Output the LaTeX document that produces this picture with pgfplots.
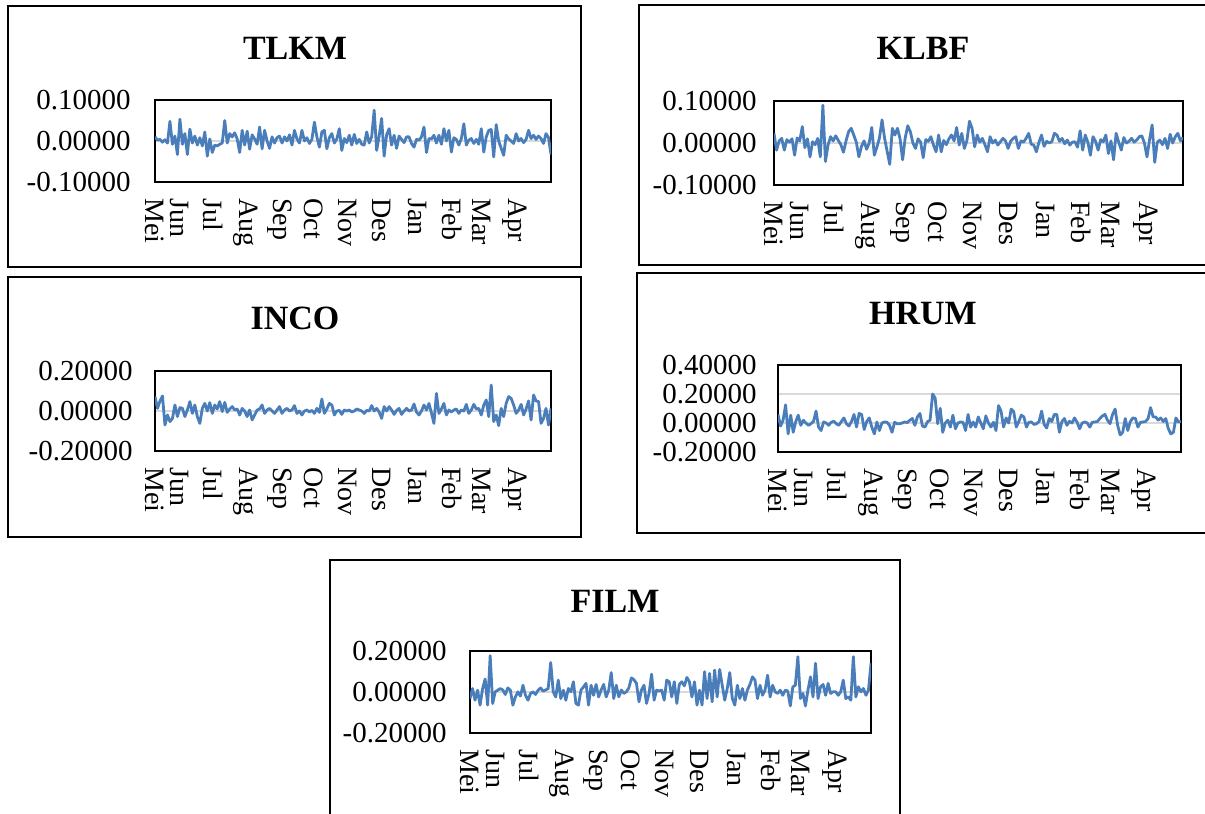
\documentclass[border=0pt]{standalone}
\usepackage{fontspec}
\setmainfont{Liberation Serif}
\usepackage{pgfplots}
\usepackage{pgfplotstable}
\pgfplotsset{compat=1.18}
\definecolor{xlblue}{RGB}{74,126,187}
\definecolor{xlgrid}{RGB}{217,217,217}

\pgfplotstableread[row sep=\\, header=false]{
0.010\\ 0.002\\ 0.004\\ -0.003\\ 0.003\\ -0.005\\ 0.048\\ -0.008\\ 0.012\\ -0.033\\
0.053\\ -0.008\\ 0.018\\ -0.033\\ 0.029\\ -0.005\\ 0.012\\ -0.010\\ 0.008\\ -0.012\\
0.022\\ -0.037\\ 0.005\\ -0.028\\ -0.010\\ -0.012\\ -0.008\\ -0.005\\ 0.050\\ -0.005\\
0.018\\ 0.010\\ 0.020\\ 0.005\\ -0.028\\ 0.026\\ -0.010\\ 0.024\\ -0.020\\ 0.015\\
0.005\\ -0.008\\ 0.034\\ -0.019\\ 0.026\\ 0.000\\ -0.018\\ 0.010\\ -0.005\\ 0.008\\
0.012\\ -0.005\\ 0.010\\ 0.000\\ 0.015\\ -0.010\\ 0.026\\ 0.005\\ -0.005\\ 0.026\\
0.000\\ 0.008\\ -0.006\\ 0.004\\ 0.046\\ 0.010\\ -0.015\\ 0.022\\ 0.026\\ -0.019\\
0.008\\ 0.018\\ -0.005\\ 0.005\\ 0.030\\ -0.023\\ 0.006\\ -0.004\\ 0.014\\ -0.010\\
0.016\\ -0.006\\ 0.004\\ -0.008\\ -0.010\\ 0.022\\ -0.005\\ 0.010\\ 0.075\\ -0.023\\
0.012\\ 0.055\\ -0.037\\ 0.015\\ 0.030\\ -0.010\\ 0.014\\ -0.018\\ 0.012\\ 0.004\\
-0.004\\ 0.010\\ 0.010\\ -0.006\\ -0.015\\ 0.004\\ 0.002\\ 0.010\\ 0.034\\ -0.028\\
0.006\\ 0.005\\ 0.014\\ -0.005\\ 0.014\\ -0.008\\ 0.030\\ 0.000\\ 0.026\\ -0.027\\
0.008\\ 0.004\\ -0.010\\ 0.006\\ 0.042\\ -0.010\\ 0.002\\ 0.006\\ -0.006\\ 0.004\\
-0.008\\ 0.030\\ -0.027\\ 0.010\\ 0.026\\ 0.028\\ -0.039\\ 0.040\\ 0.000\\ -0.018\\
-0.035\\ 0.014\\ 0.005\\ 0.000\\ -0.006\\ 0.018\\ 0.000\\ 0.006\\ -0.004\\ 0.004\\
0.026\\ 0.006\\ 0.014\\ 0.004\\ 0.012\\ 0.006\\ -0.006\\ 0.018\\ 0.008\\ -0.033\\
}\tlkm

\pgfplotstableread[row sep=\\, header=false]{
0.023\\ -0.017\\ 0.005\\ 0.011\\ -0.017\\ 0.008\\ 0.002\\ 0.010\\ -0.029\\ 0.012\\
0.005\\ 0.039\\ -0.011\\ 0.010\\ -0.033\\ 0.003\\ -0.004\\ 0.011\\ -0.033\\ 0.090\\
-0.044\\ -0.005\\ 0.015\\ 0.005\\ 0.017\\ 0.006\\ -0.004\\ -0.022\\ 0.005\\ 0.027\\
0.035\\ 0.019\\ 0.002\\ -0.033\\ -0.008\\ 0.005\\ -0.015\\ 0.000\\ 0.037\\ -0.029\\
-0.010\\ 0.012\\ 0.055\\ 0.011\\ -0.020\\ -0.051\\ 0.035\\ 0.019\\ 0.035\\ 0.010\\
-0.040\\ 0.012\\ 0.041\\ 0.027\\ 0.000\\ -0.013\\ 0.010\\ 0.002\\ -0.035\\ 0.008\\
0.004\\ 0.015\\ -0.005\\ -0.021\\ 0.019\\ -0.021\\ 0.006\\ -0.004\\ 0.010\\ 0.019\\
0.005\\ 0.037\\ -0.005\\ 0.023\\ -0.013\\ 0.006\\ 0.052\\ 0.035\\ -0.009\\ 0.019\\
0.002\\ 0.011\\ -0.004\\ -0.021\\ 0.015\\ 0.000\\ 0.007\\ -0.005\\ 0.003\\ 0.011\\
0.005\\ -0.013\\ 0.004\\ 0.011\\ 0.015\\ -0.013\\ 0.005\\ 0.002\\ 0.011\\ 0.023\\
-0.003\\ -0.005\\ -0.021\\ 0.002\\ 0.019\\ -0.008\\ 0.004\\ 0.000\\ 0.003\\ 0.023\\
0.019\\ 0.004\\ 0.011\\ -0.002\\ 0.007\\ -0.005\\ 0.002\\ 0.003\\ -0.010\\ 0.029\\
-0.017\\ 0.019\\ 0.002\\ -0.029\\ 0.015\\ 0.004\\ -0.017\\ 0.008\\ 0.003\\ 0.019\\
-0.025\\ 0.005\\ -0.040\\ 0.023\\ 0.002\\ -0.017\\ 0.013\\ 0.000\\ 0.004\\ 0.011\\
0.002\\ 0.007\\ 0.015\\ 0.017\\ 0.000\\ -0.033\\ 0.008\\ 0.043\\ -0.046\\ 0.002\\
0.007\\ -0.004\\ 0.011\\ -0.013\\ 0.021\\ 0.000\\ 0.015\\ 0.023\\ 0.005\\ 0.013\\
}\klbf

\pgfplotstableread[row sep=\\, header=false]{
0.072\\ 0.013\\ 0.050\\ 0.075\\ -0.070\\ -0.020\\ -0.053\\ -0.037\\ 0.030\\ -0.028\\
0.017\\ 0.013\\ -0.028\\ 0.005\\ 0.047\\ -0.012\\ 0.030\\ -0.028\\ -0.062\\ 0.013\\
0.038\\ 0.000\\ 0.042\\ -0.012\\ 0.030\\ 0.010\\ 0.047\\ -0.003\\ 0.043\\ -0.007\\
0.010\\ 0.022\\ 0.005\\ 0.010\\ -0.020\\ 0.013\\ 0.000\\ -0.028\\ 0.005\\ -0.045\\
-0.020\\ 0.005\\ 0.010\\ 0.030\\ -0.012\\ 0.005\\ 0.013\\ 0.000\\ -0.012\\ 0.005\\
0.022\\ -0.012\\ 0.005\\ 0.013\\ 0.000\\ 0.005\\ 0.027\\ -0.012\\ 0.000\\ -0.020\\
0.000\\ 0.005\\ -0.005\\ 0.003\\ -0.012\\ 0.013\\ -0.007\\ 0.060\\ -0.012\\ 0.010\\
0.038\\ 0.030\\ -0.020\\ 0.000\\ 0.003\\ -0.017\\ 0.005\\ 0.000\\ 0.005\\ -0.005\\
0.000\\ 0.010\\ 0.005\\ 0.000\\ -0.012\\ 0.003\\ 0.000\\ 0.027\\ 0.000\\ 0.013\\
-0.005\\ -0.037\\ 0.022\\ 0.000\\ 0.022\\ 0.005\\ -0.017\\ 0.003\\ 0.013\\ -0.017\\
0.000\\ 0.013\\ 0.000\\ 0.005\\ 0.035\\ -0.005\\ -0.020\\ 0.000\\ 0.030\\ 0.005\\
0.038\\ -0.010\\ -0.062\\ 0.088\\ -0.012\\ 0.010\\ 0.038\\ -0.020\\ 0.005\\ -0.005\\
0.005\\ 0.010\\ -0.012\\ 0.005\\ 0.000\\ 0.033\\ -0.012\\ 0.005\\ 0.033\\ 0.010\\
0.013\\ -0.020\\ 0.030\\ 0.055\\ -0.028\\ 0.130\\ -0.053\\ -0.020\\ -0.073\\ 0.013\\
-0.028\\ 0.038\\ 0.072\\ 0.063\\ 0.030\\ -0.012\\ 0.005\\ 0.033\\ -0.020\\ 0.010\\
0.050\\ -0.045\\ 0.080\\ 0.050\\ 0.047\\ -0.062\\ -0.037\\ 0.013\\ -0.070\\ 0.013\\
}\inco

\pgfplotstableread[row sep=\\, header=false]{
0.059\\ -0.021\\ 0.019\\ 0.125\\ -0.075\\ 0.054\\ -0.064\\ 0.010\\ 0.054\\ -0.016\\
0.019\\ 0.000\\ -0.016\\ -0.005\\ 0.010\\ 0.082\\ -0.028\\ -0.052\\ 0.007\\ 0.000\\
-0.016\\ 0.005\\ 0.012\\ -0.005\\ -0.016\\ 0.010\\ 0.035\\ -0.005\\ -0.021\\ 0.010\\
0.059\\ -0.028\\ 0.066\\ 0.059\\ -0.045\\ 0.010\\ 0.035\\ -0.028\\ -0.075\\ 0.007\\
-0.052\\ 0.000\\ 0.007\\ 0.005\\ -0.016\\ -0.064\\ 0.005\\ -0.005\\ -0.005\\ 0.000\\
0.007\\ 0.003\\ 0.019\\ 0.031\\ -0.016\\ 0.042\\ 0.066\\ -0.021\\ -0.028\\ 0.010\\
0.019\\ 0.200\\ 0.172\\ -0.005\\ 0.101\\ -0.064\\ 0.000\\ 0.019\\ -0.028\\ 0.054\\
-0.040\\ 0.000\\ 0.007\\ 0.005\\ -0.052\\ 0.059\\ -0.028\\ 0.007\\ -0.028\\ 0.042\\
0.000\\ -0.040\\ 0.049\\ 0.000\\ -0.028\\ 0.005\\ -0.052\\ 0.120\\ 0.082\\ -0.028\\
0.035\\ 0.000\\ 0.096\\ 0.078\\ -0.028\\ 0.010\\ 0.054\\ 0.042\\ -0.028\\ 0.005\\
0.007\\ -0.010\\ -0.005\\ 0.010\\ 0.082\\ -0.010\\ -0.035\\ 0.031\\ 0.010\\ 0.059\\
0.059\\ -0.064\\ 0.010\\ 0.031\\ -0.016\\ 0.012\\ 0.000\\ 0.035\\ 0.005\\ -0.040\\
0.000\\ 0.007\\ 0.000\\ -0.028\\ 0.005\\ 0.007\\ 0.010\\ 0.031\\ 0.049\\ 0.059\\
0.019\\ -0.005\\ 0.059\\ 0.096\\ -0.016\\ -0.082\\ -0.064\\ 0.031\\ -0.052\\ 0.010\\
0.035\\ 0.031\\ -0.028\\ 0.005\\ 0.007\\ 0.010\\ 0.030\\ 0.106\\ 0.042\\ 0.042\\
0.020\\ 0.035\\ 0.010\\ 0.031\\ -0.040\\ -0.075\\ -0.064\\ 0.035\\ 0.007\\ 0.010\\
}\hrum

\pgfplotstableread[row sep=\\, header=false]{
-0.032\\ 0.017\\ -0.040\\ 0.009\\ -0.064\\ 0.017\\ 0.063\\ -0.064\\ 0.177\\ -0.056\\
0.001\\ 0.009\\ 0.017\\ 0.010\\ -0.012\\ 0.020\\ 0.009\\ -0.064\\ -0.024\\ 0.001\\
-0.020\\ 0.033\\ -0.016\\ -0.040\\ -0.007\\ 0.001\\ -0.012\\ 0.009\\ 0.020\\ 0.004\\
0.010\\ 0.017\\ 0.144\\ 0.001\\ -0.024\\ 0.058\\ -0.032\\ 0.009\\ -0.040\\ 0.017\\
0.001\\ 0.050\\ -0.056\\ -0.064\\ 0.009\\ 0.025\\ 0.042\\ -0.064\\ 0.033\\ -0.016\\
0.037\\ -0.024\\ 0.010\\ 0.037\\ -0.024\\ 0.009\\ 0.095\\ -0.032\\ 0.033\\ -0.024\\
0.010\\ -0.007\\ 0.001\\ 0.020\\ 0.069\\ 0.060\\ 0.042\\ -0.048\\ 0.010\\ 0.033\\
-0.056\\ -0.007\\ 0.087\\ -0.040\\ 0.009\\ 0.005\\ 0.009\\ -0.040\\ 0.058\\ 0.050\\
-0.024\\ 0.050\\ -0.056\\ 0.037\\ 0.050\\ 0.030\\ 0.071\\ 0.050\\ -0.024\\ 0.050\\
-0.064\\ 0.009\\ -0.064\\ 0.099\\ -0.032\\ 0.091\\ -0.048\\ 0.107\\ -0.024\\ 0.110\\
0.033\\ -0.040\\ 0.017\\ 0.095\\ -0.032\\ -0.064\\ 0.033\\ -0.032\\ 0.017\\ -0.040\\
0.010\\ 0.037\\ 0.074\\ 0.058\\ -0.032\\ 0.033\\ -0.016\\ 0.010\\ 0.082\\ -0.024\\
0.033\\ 0.001\\ -0.007\\ 0.009\\ -0.016\\ 0.009\\ 0.005\\ -0.068\\ 0.025\\ 0.033\\
0.172\\ -0.032\\ -0.007\\ -0.068\\ 0.009\\ 0.074\\ -0.024\\ 0.140\\ -0.032\\ 0.025\\
0.037\\ -0.016\\ 0.042\\ -0.007\\ 0.001\\ 0.001\\ -0.016\\ 0.001\\ 0.058\\ -0.032\\
-0.024\\ -0.040\\ 0.172\\ -0.024\\ 0.025\\ 0.001\\ 0.017\\ -0.016\\ 0.010\\ 0.140\\
}\film

\pgfplotsset{
  panel/.style={
    anchor=south west,
    scale only axis,
    xmin=0, xmax=159,
    axis line style={black, line width=1pt},
    xtick={0,10,23.5,36.5,50,63.7,77.2,91,105.5,119.2,131,144.5},
    xticklabels={Mei,Jun,Jul,Aug,Sep,Oct,Nov,Des,Jan,Feb,Mar,Apr},
    major tick length=0pt,
    x tick label style={rotate=-90, anchor=west, inner sep=0pt, font=\fontsize{14pt}{16pt}\selectfont},
    xticklabel shift=8pt,
    y tick label style={anchor=east, inner sep=0pt, font=\fontsize{14.5pt}{16pt}\selectfont},
    ymajorgrids,
    grid style={xlgrid, line width=0.8pt},
  },
  ser/.style={xlblue, line width=1.4pt, no markers, line join=round},
}
\tikzset{ttl/.style={font=\bfseries\fontsize{17pt}{19pt}\selectfont}}

\begin{document}
\begin{tikzpicture}
\useasboundingbox (0,0) rectangle (602.5pt,407pt);
% chart area frames
\draw[line width=1pt] (4pt,273.5pt) rectangle (290.5pt,404pt);
\draw[line width=1pt] (319.5pt,274.5pt) rectangle (608pt,404.5pt);
\draw[line width=1pt] (4pt,138.5pt) rectangle (290.5pt,268.5pt);
\draw[line width=1pt] (318.5pt,140.5pt) rectangle (608pt,270.5pt);
\draw[line width=1pt] (165pt,-3pt) rectangle (450pt,127pt);

% TLKM
\begin{axis}[panel, at={(77.5pt,316pt)}, width=198pt, height=41pt,
  ymin=-0.1, ymax=0.1, ytick={-0.1,0,0.1},
  yticklabels={-0.10000,0.00000,0.10000}, yticklabel shift=12pt]
\addplot[ser] table[x expr=\coordindex, y index=0] {\tlkm};
\end{axis}
\node[ttl] at (147.5pt,382.75pt) {TLKM};

% KLBF
\begin{axis}[panel, at={(387pt,314.5pt)}, width=204.5pt, height=42pt,
  ymin=-0.1, ymax=0.1, ytick={-0.1,0,0.1},
  yticklabels={-0.10000,0.00000,0.10000}, yticklabel shift=8.5pt]
\addplot[ser] table[x expr=\coordindex, y index=0] {\klbf};
\end{axis}
\node[ttl] at (461.5pt,383pt) {KLBF};

% INCO
\begin{axis}[panel, at={(77.5pt,181.5pt)}, width=198pt, height=40pt,
  ymin=-0.2, ymax=0.2, ytick={-0.2,0,0.2},
  yticklabels={-0.20000,0.00000,0.20000}, yticklabel shift=11pt]
\addplot[ser] table[x expr=\coordindex, y index=0] {\inco};
\end{axis}
\node[ttl] at (147.5pt,248pt) {INCO};

% HRUM
\begin{axis}[panel, at={(389pt,181pt)}, width=201.5pt, height=43.5pt,
  ymin=-0.2, ymax=0.4, ytick={-0.2,0,0.2,0.4},
  yticklabels={-0.20000,0.00000,0.20000,0.40000}, yticklabel shift=10.5pt]
\addplot[ser] table[x expr=\coordindex, y index=0] {\hrum};
\end{axis}
\node[ttl] at (461.5pt,250pt) {HRUM};

% FILM
\begin{axis}[panel, at={(235pt,40.5pt)}, width=200.5pt, height=41pt,
  ymin=-0.2, ymax=0.2, ytick={-0.2,0,0.2},
  yticklabels={-0.20000,0.00000,0.20000}, yticklabel shift=11.5pt]
\addplot[ser] table[x expr=\coordindex, y index=0] {\film};
\end{axis}
\node[ttl] at (307.5pt,106.5pt) {FILM};
\end{tikzpicture}
\end{document}
